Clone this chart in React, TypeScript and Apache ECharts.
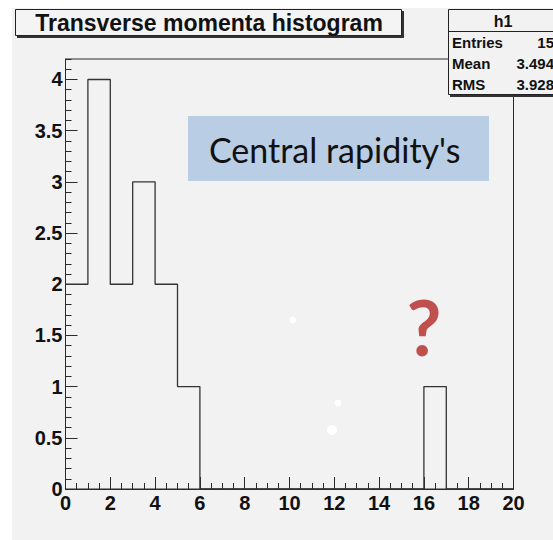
import { useEffect, useRef } from "react";
import * as echarts from "echarts";

// ---- data ----
const binEdges = [0, 1, 2, 3, 4, 5, 6, 7, 8, 9, 10, 11, 12, 13, 14, 15, 16, 17, 18, 19, 20];
const counts = [2, 4, 2, 3, 2, 1, 0, 0, 0, 0, 0, 0, 0, 0, 0, 0, 1, 0, 0, 0];
const histName = "h1";
const statsLabels = ["Entries", "Mean", "RMS"];
const statsValues = ["15", "3.494", "3.928"];
const titleText = "Transverse momenta histogram";
const noteText = "Central rapidity's";
const questionText = "?";

const ROOT_FONT = "'Liberation Sans', Arial, Helvetica, sans-serif";

export default function App() {
  const ref = useRef<HTMLDivElement>(null);
  useEffect(() => {
    if (!ref.current) return;
    const chart = echarts.init(ref.current, undefined, { renderer: "svg" });
    const stepData: number[][] = counts.map((c, i) => [binEdges[i], c]);
    stepData.push([binEdges[binEdges.length - 1], counts[counts.length - 1]]);

    const axisColor = "#2a2a2a";
    const labelStyle = {
      fontFamily: ROOT_FONT,
      fontWeight: "bold" as const,
      fontSize: 20,
      color: "#111",
    };

    const statsRows = statsLabels.map((lab, i) => [
      {
        type: "text",
        z: 101,
        style: {
          text: lab,
          x: 452,
          y: 42 + i * 21,
          textAlign: "left",
          textVerticalAlign: "middle",
          fontFamily: ROOT_FONT,
          fontWeight: "bold",
          fontSize: 15,
          fill: "#111",
        },
      },
      {
        type: "text",
        z: 101,
        style: {
          text: statsValues[i],
          x: 554,
          y: 42 + i * 21,
          textAlign: "right",
          textVerticalAlign: "middle",
          fontFamily: ROOT_FONT,
          fontWeight: "bold",
          fontSize: 15,
          fill: "#111",
        },
      },
    ]).flat();

    chart.setOption({
      animation: false,
      backgroundColor: "#ffffff",
      grid: {
        left: 65.5,
        right: 39.5,
        top: 59,
        bottom: 51,
        show: true,
        borderColor: axisColor,
        borderWidth: 1,
        backgroundColor: "transparent",
        z: 3,
      },
      xAxis: [
        {
          type: "value",
          min: 0,
          max: 20,
          interval: 2,
          axisLine: { show: true, lineStyle: { color: axisColor, width: 1 } },
          axisTick: { show: true, inside: true, length: 12, lineStyle: { color: axisColor } },
          axisLabel: { ...labelStyle, margin: 4 },
          splitLine: { show: false },
        },
        {
          type: "value",
          min: 0,
          max: 20,
          interval: 0.5,
          position: "bottom",
          axisLine: { show: false },
          axisTick: { show: true, inside: true, length: 6, lineStyle: { color: axisColor } },
          axisLabel: { show: false },
          splitLine: { show: false },
        },
      ],
      yAxis: [
        {
          type: "value",
          min: 0,
          max: 4.2,
          interval: 0.5,
          axisLine: { show: true, lineStyle: { color: axisColor, width: 1 } },
          axisTick: { show: true, inside: true, length: 12, lineStyle: { color: axisColor } },
          axisLabel: { ...labelStyle, margin: 3, showMaxLabel: false },
          splitLine: { show: false },
        },
        {
          type: "value",
          min: 0,
          max: 4.2,
          interval: 0.1,
          position: "left",
          axisLine: { show: false },
          axisTick: { show: true, inside: true, length: 6, lineStyle: { color: axisColor } },
          axisLabel: { show: false },
          splitLine: { show: false },
        },
      ],
      series: [
        {
          type: "line",
          name: histName,
          step: "end",
          xAxisIndex: 0,
          yAxisIndex: 0,
          data: stepData,
          symbol: "none",
          lineStyle: { color: "#333", width: 1.3 },
          z: 5,
        },
      ],
      graphic: [
        // canvas background
        {
          type: "rect",
          z: -10,
          shape: { x: 12, y: 8, width: 545, height: 536 },
          style: { fill: "#f2f2f2" },
        },
        // title box shadow + box
        {
          type: "rect",
          z: 99,
          shape: { x: 17, y: 11, width: 387, height: 27 },
          style: { fill: "#333" },
        },
        {
          type: "rect",
          z: 100,
          shape: { x: 15.5, y: 9.5, width: 386, height: 26 },
          style: { fill: "#f4f4f4", stroke: "#222", lineWidth: 1 },
        },
        {
          type: "text",
          z: 101,
          style: {
            text: titleText,
            x: 209,
            y: 23,
            textAlign: "center",
            textVerticalAlign: "middle",
            fontFamily: ROOT_FONT,
            fontWeight: "bold",
            fontSize: 23,
            fill: "#111",
          },
        },
        // stats box shadow + box
        {
          type: "rect",
          z: 99,
          shape: { x: 450, y: 11, width: 120, height: 86 },
          style: { fill: "#333" },
        },
        {
          type: "rect",
          z: 100,
          shape: { x: 448.5, y: 9.5, width: 120, height: 85 },
          style: { fill: "#f2f2f2", stroke: "#222", lineWidth: 1 },
        },
        {
          type: "line",
          z: 101,
          shape: { x1: 448.5, y1: 31.5, x2: 570, y2: 31.5 },
          style: { stroke: "#222", lineWidth: 1 },
        },
        {
          type: "text",
          z: 101,
          style: {
            text: histName,
            x: 503,
            y: 21,
            textAlign: "center",
            textVerticalAlign: "middle",
            fontFamily: ROOT_FONT,
            fontWeight: "bold",
            fontSize: 16,
            fill: "#111",
          },
        },
        ...statsRows,
        // annotation box
        {
          type: "rect",
          z: 50,
          shape: { x: 188, y: 116, width: 301, height: 65 },
          style: { fill: "#b9cde5" },
        },
        {
          type: "text",
          z: 51,
          style: {
            text: noteText,
            x: 209,
            y: 149,
            textAlign: "left",
            textVerticalAlign: "middle",
            fontFamily: "Lato, 'Open Sans', sans-serif",
            fontSize: 34,
            fill: "#111",
          },
        },
        {
          type: "text",
          z: 51,
          style: {
            text: questionText,
            x: 424,
            y: 326,
            textAlign: "center",
            textVerticalAlign: "middle",
            fontFamily: "Lato, 'Open Sans', sans-serif",
            fontWeight: "bold",
            fontSize: 76,
            fill: "#c0504d",
          },
        },
        // white specks
        { type: "circle", z: 51, shape: { cx: 293, cy: 320, r: 3.5 }, style: { fill: "#ffffff" } },
        { type: "circle", z: 51, shape: { cx: 338, cy: 403, r: 3.5 }, style: { fill: "#ffffff" } },
        { type: "circle", z: 51, shape: { cx: 332, cy: 430, r: 5 }, style: { fill: "#ffffff" } },
      ],
    });
    return () => chart.dispose();
  }, []);
  return (
    <div
      ref={ref}
      style={{ position: "fixed", left: 0, top: 0, width: 553, height: 540 }}
    />
  );
}
